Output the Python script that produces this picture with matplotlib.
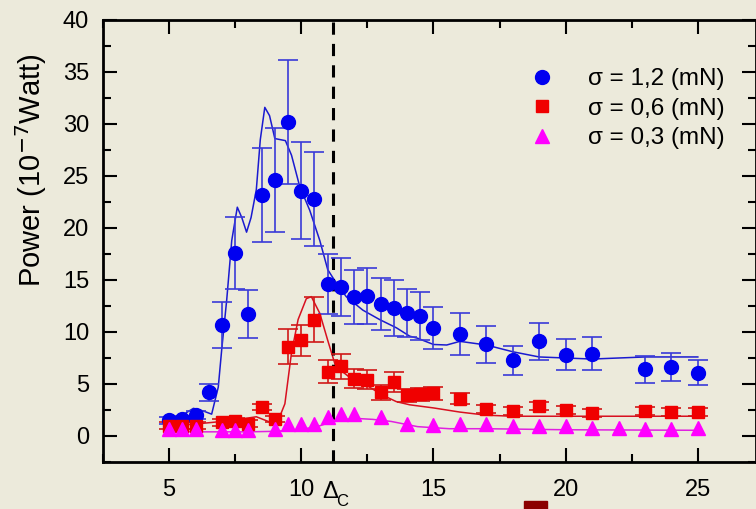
import numpy as np
import matplotlib
matplotlib.use("Agg")
import matplotlib.pyplot as plt
from matplotlib.ticker import MultipleLocator
from matplotlib.patches import Rectangle
from matplotlib.lines import Line2D

plt.rcParams['font.family'] = ['Liberation Sans', 'DejaVu Sans']

# sigma = 1,2 mN
x_hi = [5, 5.5, 6, 6.5, 7, 7.5, 8, 8.5, 9, 9.5, 10, 10.5, 11, 11.5, 12, 12.5,
        13, 13.5, 14, 14.5, 15, 16, 17, 18, 19, 20, 21, 23, 24, 25]
y_hi = [1.5, 1.6, 2.0, 4.2, 10.7, 17.6, 11.7, 23.2, 24.6, 30.2, 23.6, 22.8, 14.6, 14.3,
        13.4, 13.5, 12.7, 12.3, 11.8, 11.5, 10.4, 9.8, 8.8, 7.3, 9.1, 7.8, 7.9, 6.4, 6.6, 6.1]
e_hi = [0.3, 0.3, 0.4, 0.8, 2.2, 3.5, 2.3, 4.5, 5.0, 6.0, 4.7, 4.5, 2.9, 2.8,
        2.6, 2.7, 2.5, 2.7, 2.3, 2.3, 2.0, 2.0, 1.8, 1.4, 1.8, 1.5, 1.6, 1.3, 1.35, 1.2]

# sigma = 0,6 mN
x_mid = [5, 5.5, 6, 7, 7.5, 8, 8.5, 9, 9.5, 10, 10.5, 11, 11.5, 12, 12.5, 13, 13.5,
         14, 14.5, 15, 16, 17, 18, 19, 20, 21, 23, 24, 25]
y_mid = [1.0, 1.0, 1.0, 1.3, 1.4, 1.2, 2.8, 1.6, 8.6, 9.2, 11.2, 6.2, 6.7, 5.5, 5.4, 4.2, 5.2,
         3.9, 4.0, 4.1, 3.6, 2.6, 2.4, 2.9, 2.5, 2.2, 2.4, 2.3, 2.3]
e_mid = [0.3, 0.3, 0.3, 0.3, 0.3, 0.3, 0.3, 0.3, 1.7, 1.5, 2.2, 1.1, 1.2, 0.9, 0.9, 0.7, 1.0,
         0.6, 0.6, 0.6, 0.5, 0.4, 0.4, 0.4, 0.4, 0.4, 0.4, 0.4, 0.4]

# sigma = 0,3 mN
x_lo = [5, 5.5, 6, 7, 7.5, 8, 9, 9.5, 10, 10.5, 11, 11.5, 12, 13, 14, 15,
        16, 17, 18, 19, 20, 21, 22, 23, 24, 25]
y_lo = [0.7, 0.7, 0.7, 0.6, 0.6, 0.6, 0.7, 1.2, 1.2, 1.2, 1.8, 2.1, 2.1, 1.8, 1.2, 1.1,
        1.2, 1.2, 1.0, 1.0, 1.0, 0.8, 0.8, 0.7, 0.7, 0.8]
e_lo = [0.4] * len(x_lo)

# fitted curves
fx_hi = [4.8, 5.0, 5.5, 5.92, 6.3, 6.61, 6.86, 6.99, 7.18, 7.37, 7.58, 7.75, 7.93, 8.1, 8.3,
         8.45, 8.62, 8.8, 9.0, 9.2, 9.4, 9.63, 9.94, 10.32, 10.7, 11.0, 11.2, 11.7, 12.33,
         12.96, 13.6, 14.1, 14.4, 15.0, 15.5, 16.0, 17.0, 18.0, 19.0, 20.0, 21.0, 22.0,
         23.0, 24.0, 25.0]
fy_hi = [1.35, 1.5, 2.0, 2.66, 2.4, 2.1, 4.7, 8.3, 13.1, 18.8, 22.0, 21.0, 19.6, 21.0, 23.7,
         28.5, 31.6, 30.8, 28.6, 28.5, 28.4, 27.0, 24.0, 21.7, 18.8, 16.0, 15.2, 13.4, 12.1,
         11.2, 10.4, 9.6, 9.4, 8.8, 8.75, 9.1, 8.75, 8.1, 7.6, 7.5, 7.4, 7.5, 7.6, 7.6, 7.6]

fx_mid = [4.8, 6.2, 7.4, 8.3, 8.9, 9.06, 9.38, 9.63, 9.88, 10.19, 10.38, 10.7, 11.0, 11.3,
          11.8, 12.45, 13.1, 13.6, 14.1, 15.0, 16.0, 17.0, 18.0, 20.0, 22.0, 25.0]
fy_mid = [0.9, 1.2, 1.5, 1.85, 1.25, 1.06, 3.1, 8.0, 11.2, 13.2, 13.4, 11.8, 9.2, 6.7,
          5.7, 4.9, 3.9, 3.3, 3.0, 2.7, 2.3, 2.0, 1.9, 1.9, 1.9, 1.9]

fx_lo = [4.8, 6.0, 7.0, 8.0, 9.0, 9.9, 10.6, 11.2, 12.0, 12.7, 13.4, 14.4, 15.0, 15.6,
         17.0, 20.0, 25.0]
fy_lo = [0.5, 0.4, 0.4, 0.4, 0.45, 0.6, 0.9, 1.4, 1.7, 1.6, 1.4, 0.9, 0.8, 0.7, 0.7, 0.6, 0.55]

labels = ['σ = 1,2 (mN)', 'σ = 0,6 (mN)', 'σ = 0,3 (mN)']
x_crit = 11.2

bg = '#ECEADB'
c_hi, c_mid, c_lo = '#0000f0', '#f00000', '#ff00ff'

fig = plt.figure(figsize=(7.56, 5.09), dpi=100, facecolor=bg)
ax = fig.add_axes([103 / 756, 47 / 509, 653 / 756, 442 / 509])
ax.set_facecolor(bg)

# curves
ax.plot(fx_hi, fy_hi, color='#1a1ad0', lw=1.1, zorder=2)
ax.plot(fx_mid, fy_mid, color='#d81020', lw=1.1, zorder=2)
ax.plot(fx_lo, fy_lo, color='#e020e0', lw=1.1, zorder=2)

# data with error bars
ax.errorbar(x_hi, y_hi, yerr=e_hi, fmt='o', color=c_hi, ecolor='#3a3ad8',
            ms=10, elinewidth=1.2, capsize=7, capthick=1.2, zorder=4)
ax.errorbar(x_mid, y_mid, yerr=e_mid, fmt='s', color=c_mid, ecolor='#d01818',
            ms=9, elinewidth=1.2, capsize=7, capthick=1.2, zorder=4)
ax.errorbar(x_lo, y_lo, yerr=e_lo, fmt='^', color=c_lo, ecolor='#e010e0',
            ms=10, elinewidth=1.2, capsize=0, zorder=4)

# critical value
ax.axvline(x_crit, color='black', lw=2.2, ls=(0, (4, 3)), zorder=3)

ax.set_xlim(2.5, 27.2)
ax.set_ylim(-2.5, 40)
ax.xaxis.set_major_locator(MultipleLocator(5))
ax.xaxis.set_minor_locator(MultipleLocator(2.5))
ax.yaxis.set_major_locator(MultipleLocator(5))
ax.yaxis.set_minor_locator(MultipleLocator(2.5))
ax.tick_params(which='both', direction='in', top=True, right=True, width=1.5)
ax.tick_params(which='major', length=10, labelsize=17)
ax.tick_params(axis='x', which='major', pad=12)
ax.tick_params(axis='y', which='major', pad=10)
ax.tick_params(which='minor', length=6)
for s in ax.spines.values():
    s.set_linewidth(2)

ax.set_ylabel('Power (10$^{-7}$Watt)', fontsize=21)
ax.yaxis.set_label_coords(-0.082, 0.66)
# Δc marker next to the "10" tick label
xt = ax.get_xaxis_transform()
ax.text(10.8, -0.081, 'Δ', transform=xt, ha='left', va='baseline', fontsize=17)
ax.text(11.33, -0.099, 'C', transform=xt, ha='left', va='baseline', fontsize=12)

handles = [Line2D([], [], ls='none', marker='o', ms=10, color=c_hi),
           Line2D([], [], ls='none', marker='s', ms=8, color=c_mid),
           Line2D([], [], ls='none', marker='^', ms=10, color=c_lo)]
ax.legend(handles, labels, loc='upper right', bbox_to_anchor=(0.985, 0.94), frameon=False,
          fontsize=17.5, handletextpad=1.4, labelspacing=0.3, handlelength=1.0)

# dark block at the bottom edge of the slide
fig.patches.append(Rectangle((524 / 756, 0), 23 / 756, 8 / 509, transform=fig.transFigure,
                             color='#8b0000', zorder=5))

fig.savefig('out.png', dpi=100, facecolor=bg)
